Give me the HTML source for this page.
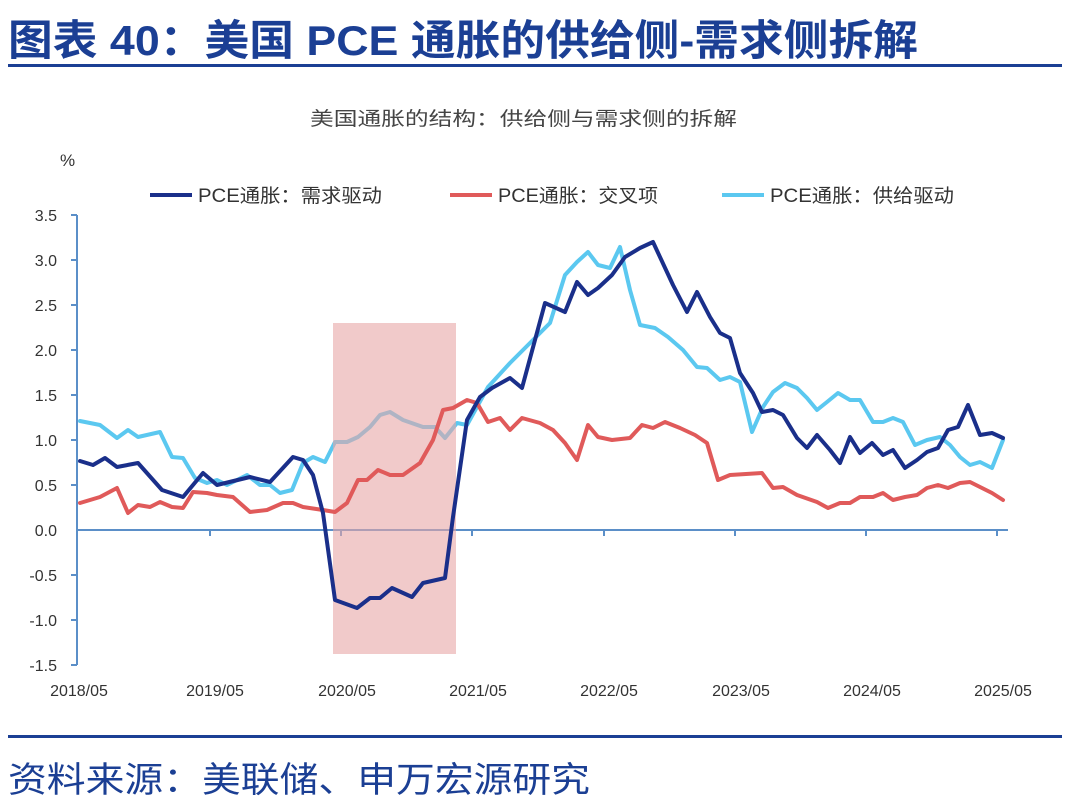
<!DOCTYPE html>
<html><head><meta charset="utf-8"><style>
body{margin:0;width:1080px;height:811px;background:#fff;overflow:hidden;font-family:"Liberation Sans","Noto Sans CJK SC",sans-serif;}
</style></head><body>
<svg width="1080" height="811" xmlns="http://www.w3.org/2000/svg" style="position:absolute;left:0;top:0">
<text x="8" y="55" font-size="42" font-weight="bold" fill="#1b3f94" textLength="910" lengthAdjust="spacingAndGlyphs" font-family="Liberation Sans,Noto Sans CJK SC,sans-serif">图表 40：美国 PCE 通胀的供给侧-需求侧拆解</text>
<rect x="8" y="64" width="1054" height="3" fill="#1b3f94"/>
<rect x="8" y="735" width="1054" height="3" fill="#1b3f94"/>
<text x="8" y="792" font-size="35" fill="#1b3f94" textLength="582" lengthAdjust="spacingAndGlyphs" font-family="Liberation Sans,Noto Sans CJK SC,sans-serif">资料来源：美联储、申万宏源研究</text>
<text x="310" y="125" font-size="19" fill="#444" textLength="427" lengthAdjust="spacingAndGlyphs" font-family="Liberation Sans,Noto Sans CJK SC,sans-serif">美国通胀的结构：供给侧与需求侧的拆解</text>
<text x="60" y="166" font-size="17" fill="#333">%</text>
<g font-size="19" fill="#333" font-family="Liberation Sans,Noto Sans CJK SC,sans-serif" lengthAdjust="spacingAndGlyphs">
<line x1="150" y1="195" x2="192" y2="195" stroke="#1a2f8a" stroke-width="4"/><text x="198" y="202" textLength="184" lengthAdjust="spacingAndGlyphs">PCE通胀：需求驱动</text>
<line x1="450" y1="195" x2="492" y2="195" stroke="#e05a5a" stroke-width="4"/><text x="498" y="202" textLength="160" lengthAdjust="spacingAndGlyphs">PCE通胀：交叉项</text>
<line x1="722" y1="195" x2="764" y2="195" stroke="#5bc8f0" stroke-width="4"/><text x="770" y="202" textLength="184" lengthAdjust="spacingAndGlyphs">PCE通胀：供给驱动</text>
</g>
<g font-size="16" fill="#333" text-anchor="end">
<text x="57" y="221">3.5</text><text x="57" y="266">3.0</text><text x="57" y="311">2.5</text><text x="57" y="356">2.0</text><text x="57" y="401">1.5</text><text x="57" y="446">1.0</text><text x="57" y="491">0.5</text><text x="57" y="536">0.0</text><text x="57" y="581">-0.5</text><text x="57" y="626">-1.0</text><text x="57" y="671">-1.5</text>
</g>
<g stroke="#5b8fc8" stroke-width="2">
<line x1="77" y1="215" x2="77" y2="665"/>
<line x1="71" y1="215" x2="77" y2="215"/><line x1="71" y1="260" x2="77" y2="260"/><line x1="71" y1="305" x2="77" y2="305"/><line x1="71" y1="350" x2="77" y2="350"/><line x1="71" y1="395" x2="77" y2="395"/><line x1="71" y1="440" x2="77" y2="440"/><line x1="71" y1="485" x2="77" y2="485"/><line x1="71" y1="575" x2="77" y2="575"/><line x1="71" y1="620" x2="77" y2="620"/><line x1="71" y1="665" x2="77" y2="665"/>
<line x1="77" y1="530" x2="1008" y2="530"/>
<line x1="210" y1="530" x2="210" y2="536"/><line x1="341" y1="530" x2="341" y2="536"/><line x1="472" y1="530" x2="472" y2="536"/><line x1="604" y1="530" x2="604" y2="536"/><line x1="735" y1="530" x2="735" y2="536"/><line x1="866" y1="530" x2="866" y2="536"/><line x1="997" y1="530" x2="997" y2="536"/>
</g>
<g font-size="16" fill="#333" text-anchor="middle">
<text x="79" y="696">2018/05</text><text x="215" y="696">2019/05</text><text x="347" y="696">2020/05</text><text x="478" y="696">2021/05</text><text x="609" y="696">2022/05</text><text x="741" y="696">2023/05</text><text x="872" y="696">2024/05</text><text x="1003" y="696">2025/05</text>
</g>
<g fill="none" stroke-width="4" stroke-linejoin="round" stroke-linecap="round">
<polyline stroke="#5bc8f0" points="80,421 100,425 117,438 128,430 138,437 160,432 172,457 183,458 195,478 207,483 217,480 227,485 247,475 260,485 270,485 280,493 292,490 303,463 313,457 325,462 335,442 347,442 358,437 370,427 380,415 390,412 403,420 423,427 435,427 445,438 457,423 467,425 488,387 510,363 540,333 550,323 565,275 577,262 588,252 598,265 610,268 620,247 630,290 640,325 655,328 668,337 683,350 697,367 707,368 720,380 730,377 740,382 752,432 763,407 773,392 785,383 797,388 807,398 817,410 827,402 838,393 850,400 860,400 873,422 883,422 893,418 903,422 915,445 927,440 940,437 950,445 960,457 970,465 980,462 992,468 1003,440"/>
</g>
<rect x="333" y="323" width="123" height="331" fill="#e8a6a6" fill-opacity="0.6"/>
<g fill="none" stroke-width="4" stroke-linejoin="round" stroke-linecap="round">
<polyline stroke="#e05a5a" points="80,503 100,497 117,488 128,513 138,505 150,507 160,502 172,507 183,508 193,492 207,493 217,495 233,497 250,512 267,510 283,503 293,503 303,507 323,510 335,512 347,503 358,480 367,480 378,470 390,475 403,475 420,463 433,440 443,410 453,408 467,400 477,403 488,422 500,418 510,430 522,418 540,423 553,430 565,443 577,460 588,425 598,437 612,440 630,438 642,425 653,428 665,422 680,428 695,435 707,443 718,480 730,475 762,473 773,488 783,487 797,495 817,502 828,508 840,503 850,503 860,497 873,497 883,493 893,500 905,497 917,495 927,488 938,485 948,488 960,483 970,482 980,487 992,493 1003,500"/>
<polyline stroke="#1a2f8a" points="80,461 93,465 105,458 117,467 138,463 162,490 183,497 203,473 217,485 250,477 270,482 293,457 303,460 313,475 323,513 335,600 357,608 370,598 380,598 392,588 412,597 423,583 445,578 453,517 467,420 480,397 492,388 510,378 522,388 545,303 565,312 577,282 588,295 598,288 612,275 625,257 640,248 653,242 673,285 687,312 697,292 710,317 720,333 730,338 740,373 753,393 762,412 773,410 783,415 797,438 807,448 817,435 830,450 840,463 850,437 860,453 872,443 883,455 893,450 905,468 917,460 927,452 938,448 948,430 958,427 968,405 980,435 992,433 1003,438"/>
</g>
</svg>
</body></html>
